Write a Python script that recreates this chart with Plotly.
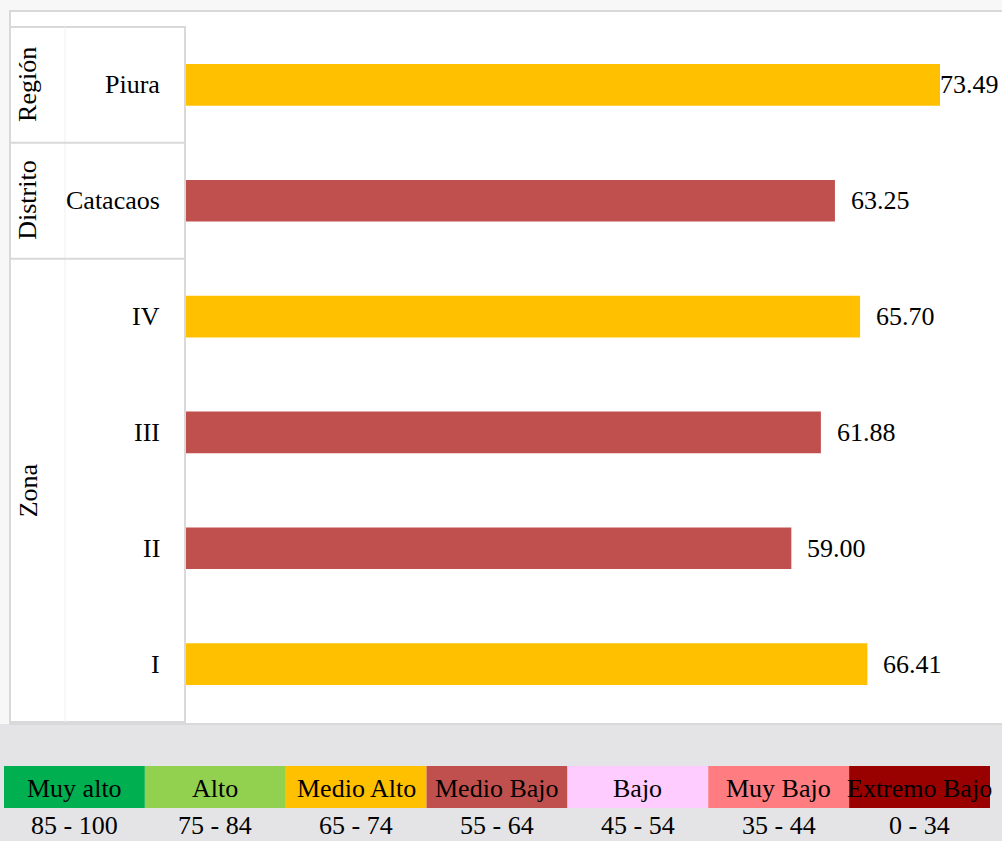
import plotly.graph_objects as go

# ---- data ----
categories = ["Piura", "Catacaos", "IV", "III", "II", "I"]
values = [73.49, 63.25, 65.70, 61.88, 59.00, 66.41]
bar_colors = ["#FFC000", "#C0504D", "#FFC000", "#C0504D", "#C0504D", "#FFC000"]
groups = ["Región", "Distrito", "Zona"]
group_sizes = [1, 1, 4]

legend_labels = ["Muy alto", "Alto", "Medio Alto", "Medio Bajo", "Bajo", "Muy Bajo", "Extremo Bajo"]
legend_ranges = ["85 - 100", "75 - 84", "65 - 74", "55 - 64", "45 - 54", "35 - 44", "0 - 34"]
legend_colors = ["#00B050", "#92D050", "#FFC000", "#C0504D", "#FFCCFF", "#FF7C80", "#990000"]

# ---- geometry (pixels) ----
W, H = 1002, 841
L, R, T, B = 186, 1002, 27, 722
SCALE = 10.26  # px per unit
FONT = "Liberation Serif, Times New Roman, serif"
FS = 26

def px(x):
    return (x - L) / (R - L)

def py(y):
    return (B - y) / (B - T)

fig = go.Figure()
fig.add_trace(go.Bar(
    y=categories, x=values, orientation="h",
    marker=dict(color=bar_colors, line=dict(width=0)),
    width=0.36, hoverinfo="skip",
))

shapes = []
annotations = []
# background watermark-ish bottom area
shapes.append(dict(type="rect", xref="paper", yref="paper", x0=px(0), x1=px(W), y0=py(H), y1=py(724),
                   fillcolor="#e4e4e6", line=dict(width=0), layer="below"))
# chart frame
shapes.append(dict(type="rect", xref="paper", yref="paper", x0=px(10), x1=px(W + 5), y0=py(724), y1=py(11),
                   fillcolor="#ffffff", line=dict(color="#d9d9d9", width=2), layer="below"))
# category table
line_c = dict(color="#d9d9d9", width=2)
shapes.append(dict(type="line", xref="paper", yref="paper", x0=px(10), x1=px(186), y0=py(27), y1=py(27), line=line_c))
shapes.append(dict(type="line", xref="paper", yref="paper", x0=px(185), x1=px(185), y0=py(27), y1=py(722), line=line_c))
shapes.append(dict(type="line", xref="paper", yref="paper", x0=px(10), x1=px(186), y0=py(722), y1=py(722), line=line_c))
shapes.append(dict(type="line", xref="paper", yref="paper", x0=px(65), x1=px(65), y0=py(27), y1=py(722),
                   line=dict(color="#f0f0f0", width=1)))

n = len(categories)
band = (B - T) / n
start = 0
for g, s in zip(groups, group_sizes):
    y_top = T + start * band
    y_bot = T + (start + s) * band
    if start > 0:
        shapes.append(dict(type="line", xref="paper", yref="paper", x0=px(10), x1=px(186),
                           y0=py(y_top), y1=py(y_top), line=line_c))
    annotations.append(dict(text=g, xref="paper", yref="paper", x=px(28), y=py((y_top + y_bot) / 2),
                            textangle=-90, showarrow=False, xanchor="center", yanchor="middle",
                            font=dict(family=FONT, size=FS, color="#000000")))
    start += s

# category labels
for c in categories:
    annotations.append(dict(text=c, xref="paper", yref="y", x=px(162), y=c, showarrow=False,
                            xanchor="right", yanchor="middle",
                            font=dict(family=FONT, size=FS, color="#000000")))

# value labels
for c, v in zip(categories, values):
    txt = f"{v:.2f}"
    end_px = L + v * SCALE
    est_w = len(txt) * 0.47 * FS
    if end_px + 16 + est_w > W:
        annotations.append(dict(text=txt, xref="paper", yref="y", x=1, y=c, showarrow=False,
                                xanchor="right", yanchor="middle", xshift=-1,
                                font=dict(family=FONT, size=FS, color="#000000")))
    else:
        annotations.append(dict(text=txt, xref="x", yref="y", x=v, y=c, showarrow=False,
                                xanchor="left", yanchor="middle", xshift=14,
                                font=dict(family=FONT, size=FS, color="#000000")))

# legend table
x_start, x_end = 4, 990
cw = (x_end - x_start) / len(legend_labels)
for i, (lab, rng, col) in enumerate(zip(legend_labels, legend_ranges, legend_colors)):
    x0 = x_start + i * cw
    x1 = x0 + cw
    shapes.append(dict(type="rect", xref="paper", yref="paper", x0=px(x0), x1=px(x1), y0=py(808), y1=py(766),
                       fillcolor=col, line=dict(width=0)))
    annotations.append(dict(text=lab, xref="paper", yref="paper", x=px((x0 + x1) / 2), y=py(788),
                            showarrow=False, xanchor="center", yanchor="middle",
                            font=dict(family=FONT, size=FS, color="#000000")))
    annotations.append(dict(text=rng, xref="paper", yref="paper", x=px((x0 + x1) / 2), y=py(825),
                            showarrow=False, xanchor="center", yanchor="middle",
                            font=dict(family=FONT, size=FS, color="#000000")))

fig.update_layout(
    width=W, height=H,
    margin=dict(l=L, r=W - R, t=T, b=H - B, pad=0),
    paper_bgcolor="#f7f7f7", plot_bgcolor="rgba(0,0,0,0)",
    showlegend=False,
    xaxis=dict(range=[0, (R - L) / SCALE], visible=False, fixedrange=True),
    yaxis=dict(categoryorder="array", categoryarray=categories, autorange="reversed",
               showticklabels=False, showgrid=False, zeroline=False, showline=False, fixedrange=True),
    shapes=shapes, annotations=annotations,
    font=dict(family=FONT),
)
fig.write_html("out.html", config={"displayModeBar": False},
               post_script="document.body.style.margin='0';document.body.style.padding='0';document.body.style.overflow='hidden';")
